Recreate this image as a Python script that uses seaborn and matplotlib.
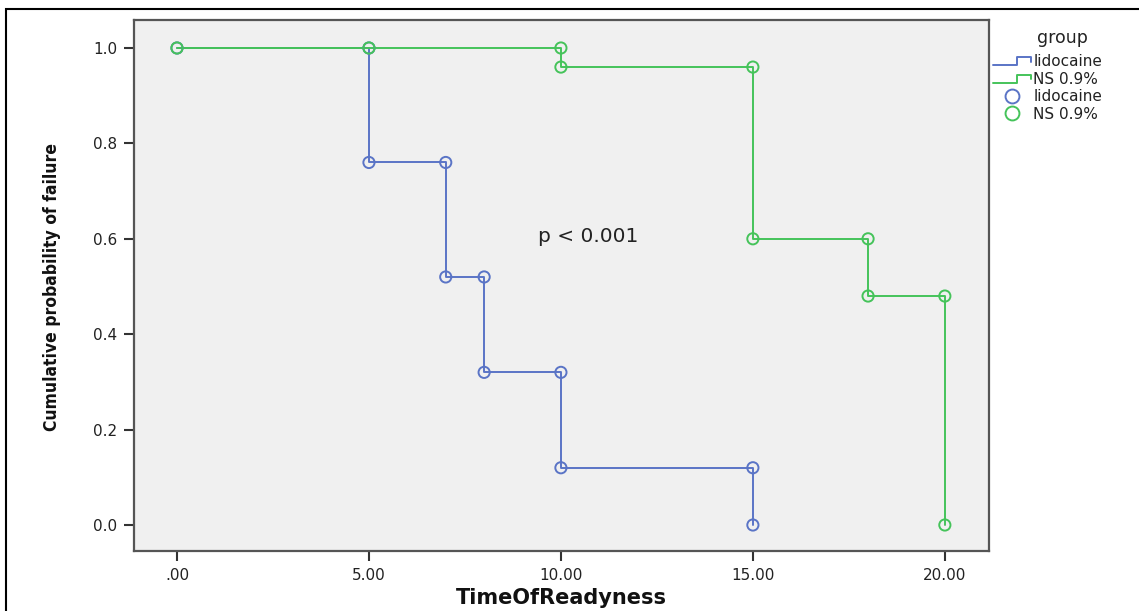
import pandas as pd
import matplotlib.pyplot as plt
import seaborn as sns
from matplotlib.lines import Line2D
from matplotlib.patches import Rectangle
from matplotlib.legend_handler import HandlerBase

# ======= data =======
groups = ['lidocaine', 'NS 0.9%']
lido_time = [0, 5, 5, 7, 7, 8, 8, 10, 10, 15, 15]
lido_prob = [1.0, 1.0, 0.76, 0.76, 0.52, 0.52, 0.32, 0.32, 0.12, 0.12, 0.0]
ns_time = [0, 5, 10, 10, 15, 15, 18, 18, 20, 20]
ns_prob = [1.0, 1.0, 1.0, 0.96, 0.96, 0.60, 0.60, 0.48, 0.48, 0.0]
x_ticks = [0, 5, 10, 15, 20]
x_ticklabels = ['.00', '5.00', '10.00', '15.00', '20.00']
y_ticks = [0.0, 0.2, 0.4, 0.6, 0.8, 1.0]
p_text = 'p < 0.001'

colors = {'lidocaine': '#5a74c6', 'NS 0.9%': '#45c35a'}

df = pd.concat([
    pd.DataFrame({'time': lido_time, 'prob': lido_prob, 'group': groups[0]}),
    pd.DataFrame({'time': ns_time, 'prob': ns_prob, 'group': groups[1]}),
])

sns.set_theme(style='white')
plt.rcParams['font.family'] = ['DejaVu Sans']

fig = plt.figure(figsize=(11.39, 6.11), dpi=100)
ax = fig.add_axes([134/1139, 1-551/611, (989-134)/1139, (551-20)/611])
ax.set_facecolor('#f0f0f0')

# step lines
for g in groups:
    sub = df[df['group'] == g]
    ax.step(sub['time'], sub['prob'], where='post', color=colors[g], lw=1.4, zorder=2)

# open circle markers
sns.scatterplot(data=df, x='time', y='prob', hue='group', palette=colors,
                marker='o', s=65, linewidth=1.4, legend=False, ax=ax, zorder=3)
ax.collections[0].set_facecolor('none')
ax.collections[0].set_edgecolor([colors[g] for g in df['group']])

ax.set_xlim(-1.12, 21.15)
ax.set_ylim(-0.0545, 1.0587)
ax.set_xticks(x_ticks)
ax.set_xticklabels(x_ticklabels)
ax.set_yticks(y_ticks)
ax.set_yticklabels([f'{v:.1f}' for v in y_ticks])
ax.tick_params(axis='both', direction='out', length=7, width=1.5, color='#333333',
               labelsize=11, labelcolor='#222222', pad=5, left=True, bottom=True)
for s in ax.spines.values():
    s.set_color('#555555')
    s.set_linewidth(1.6)

ax.set_xlabel('TimeOfReadyness', fontsize=15, fontweight='bold', color='#111111')
ax.xaxis.set_label_coords(0.5, -0.069)
ax.set_ylabel('Cumulative probability of failure', fontsize=12.5, fontweight='bold',
              fontstretch='condensed', color='#111111')
ax.yaxis.set_label_coords(-0.096, 0.497)
ax.yaxis.label.set_va('center')

ax.text(9.4, 0.604, p_text, fontsize=14.5, color='#222222', va='center', ha='left')


# legend with step-shaped line icons
class StepHandler(HandlerBase):
    def create_artists(self, legend, orig_handle, xdescent, ydescent, width, height, fontsize, trans):
        x0, x1 = -xdescent, -xdescent + width
        y0, y1 = -ydescent + height * 0.1, -ydescent + height * 0.8
        xm = x0 + width * 0.62
        line = Line2D([x0, xm, xm, x1, x1], [y0, y0, y1, y1, y0 + (y1 - y0) * 0.45],
                      color=orig_handle.get_color(), lw=1.4, transform=trans)
        return [line]


handles = [Line2D([], [], color=colors[g]) for g in groups]
handles += [Line2D([], [], ls='none', marker='o', markersize=10, markerfacecolor='none',
                   markeredgecolor=colors[g], markeredgewidth=1.4) for g in groups]
labels = groups + groups
hmap = {h: StepHandler() for h in handles[:2]}
leg = fig.legend(handles, labels, handler_map=hmap, loc='upper left',
                 bbox_to_anchor=(993/1139, 1-54/611), frameon=False, fontsize=11,
                 handlelength=2.5, handletextpad=0.15,
                 labelspacing=0.17, borderaxespad=0, borderpad=0)
for t in leg.get_texts():
    t.set_color('#222222')
fig.text(1062/1139, 1-38/611, 'group', fontsize=12.5, color='#222222', ha='center', va='center')

# outer frame
fig.patches.append(Rectangle((6/1139, -0.05), 1.1, 1-9/611+0.05, transform=fig.transFigure,
                             fill=False, edgecolor='black', lw=1.5, clip_on=False))

plt.savefig('out.png', dpi=100)
